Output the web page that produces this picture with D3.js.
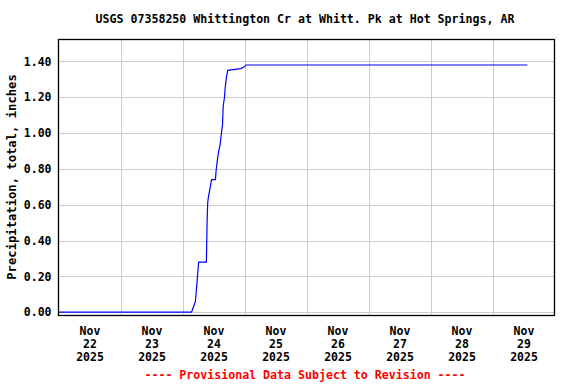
<!DOCTYPE html>
<html>
<head>
<meta charset="utf-8">
<script src="https://d3js.org/d3.v7.min.js"></script>
<style>
  body { margin: 0; background: #fff; }
  text { font-family: "DejaVu Sans Mono", monospace; font-weight: bold; }
</style>
</head>
<body>
<svg id="chart" width="576" height="384"></svg>
<script>
  // precipitation, total, inches (cumulative) -- 15 min data thinned to the steps visible in the plot
  var times = [
    "2025-11-22 00:00", "2025-11-24 03:30", "2025-11-24 04:15", "2025-11-24 05:00",
    "2025-11-24 05:45", "2025-11-24 06:15", "2025-11-24 09:15", "2025-11-24 09:30",
    "2025-11-24 09:45", "2025-11-24 10:00", "2025-11-24 10:45", "2025-11-24 11:15",
    "2025-11-24 12:45", "2025-11-24 13:00", "2025-11-24 13:30", "2025-11-24 14:00",
    "2025-11-24 14:30", "2025-11-24 15:00", "2025-11-24 15:30", "2025-11-24 15:45",
    "2025-11-24 16:15", "2025-11-24 16:30", "2025-11-24 17:00", "2025-11-24 17:30",
    "2025-11-24 22:30", "2025-11-25 00:00", "2025-11-25 00:30", "2025-11-29 13:30"
  ];
  var precip = [
    0.00, 0.00, 0.03, 0.06,
    0.19, 0.28, 0.28, 0.49,
    0.61, 0.64, 0.70, 0.74,
    0.74, 0.79, 0.85, 0.90,
    0.93, 0.99, 1.05, 1.15,
    1.20, 1.25, 1.31, 1.35,
    1.36, 1.37, 1.38, 1.38
  ];
  var dayLabels = ["22", "23", "24", "25", "26", "27", "28", "29"];
  var yTicks = [0.00, 0.20, 0.40, 0.60, 0.80, 1.00, 1.20, 1.40];
  var title = "USGS 07358250 Whittington Cr at Whitt. Pk at Hot Springs, AR";

  var svg = d3.select("#chart");
  var pLeft = 58.5, pRight = 554.5, pTop = 39.5, pBottom = 315.5;
  var parse = d3.utcParse("%Y-%m-%d %H:%M");

  var x = d3.scaleUtc()
            .domain([parse("2025-11-22 00:00"), parse("2025-11-30 00:00")])
            .range([pLeft, pRight]);
  var y = d3.scaleLinear()
            .domain([-0.0185, 1.5225])
            .range([pBottom, pTop]);

  // grid
  var midnights = d3.utcDay.range(parse("2025-11-23 00:00"), parse("2025-11-30 00:00"));
  svg.append("g").selectAll("line")
    .data(midnights)
    .enter().append("line")
    .attr("x1", function(d) { return Math.round(x(d)) + 0.5; })
    .attr("x2", function(d) { return Math.round(x(d)) + 0.5; })
    .attr("y1", pTop).attr("y2", pBottom)
    .attr("stroke", "#cccccc");
  svg.append("g").selectAll("line")
    .data(yTicks)
    .enter().append("line")
    .attr("x1", pLeft).attr("x2", pRight)
    .attr("y1", function(d) { return Math.round(y(d)) + 0.5; })
    .attr("y2", function(d) { return Math.round(y(d)) + 0.5; })
    .attr("stroke", "#cccccc");

  // data line
  var pts = times.map(function(t, i) { return [parse(t), precip[i]]; });
  svg.append("path")
    .datum(pts)
    .attr("fill", "none")
    .attr("stroke", "#0000ff")
    .attr("stroke-width", 1.2)
    .attr("d", d3.line()
      .x(function(d) { return x(d[0]); })
      .y(function(d) { return y(d[1]); }));

  svg.append("rect")
    .attr("x", pLeft).attr("y", pTop)
    .attr("width", pRight - pLeft).attr("height", pBottom - pTop)
    .attr("fill", "none").attr("stroke", "#000").attr("stroke-width", 1.3);

  // y axis
  var yAxis = svg.append("g")
    .attr("transform", "translate(" + (pLeft - 7) + ",0)")
    .call(d3.axisLeft(y).tickValues(yTicks).tickFormat(d3.format(".2f")).tickSize(0).tickPadding(0));
  yAxis.select(".domain").remove();
  yAxis.selectAll("text").attr("font-size", "11.5px").attr("fill", "#000")
    .attr("font-family", "DejaVu Sans Mono").attr("font-weight", "bold");

  // x axis, labels at noon of each day
  var noons = dayLabels.map(function(d) { return parse("2025-11-" + d + " 12:00"); });
  var xAxis = svg.append("g")
    .attr("transform", "translate(0," + pBottom + ")")
    .call(d3.axisBottom(x).tickValues(noons).tickSize(0).tickFormat(""));
  xAxis.select(".domain").remove();
  xAxis.selectAll(".tick text").each(function(d) {
    var t = d3.select(this).attr("y", 0).attr("dy", null)
      .attr("font-size", "11.5px").attr("fill", "#000")
      .attr("font-family", "DejaVu Sans Mono").attr("font-weight", "bold");
    var lines = [d3.utcFormat("%b")(d), d3.utcFormat("%d")(d), d3.utcFormat("%Y")(d)];
    lines.forEach(function(s, i) {
      t.append("tspan").attr("x", 0).attr("y", 19 + i * 13).text(s);
    });
  });

  svg.append("text")
    .attr("x", 305).attr("y", 23)
    .attr("text-anchor", "middle")
    .attr("font-size", "11.6px")
    .text(title);

  svg.append("text")
    .attr("transform", "translate(16,177) rotate(-90)")
    .attr("text-anchor", "middle")
    .attr("font-size", "12.2px")
    .text("Precipitation, total, inches");

  svg.append("text")
    .attr("x", 305).attr("y", 379)
    .attr("text-anchor", "middle")
    .attr("font-size", "11.6px")
    .attr("fill", "#ff0000")
    .text("---- Provisional Data Subject to Revision ----");
</script>
</body>
</html>
